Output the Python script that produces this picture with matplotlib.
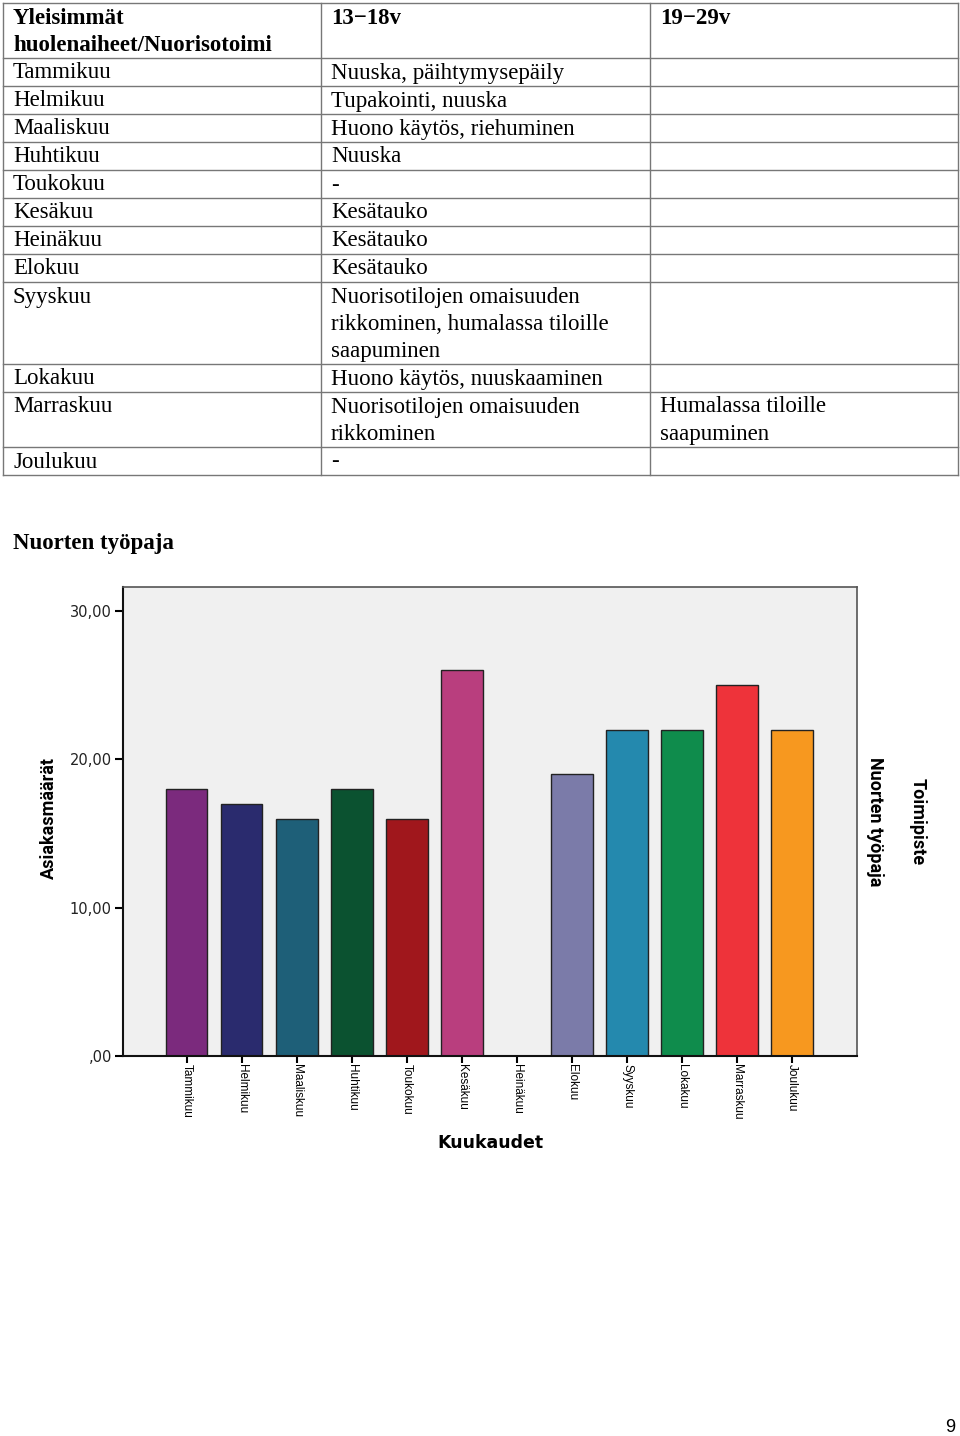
import matplotlib
matplotlib.use("Agg")
import matplotlib.pyplot as plt
from matplotlib.lines import Line2D

# table data
TABLE_HEADER = ["Yleisimmät\nhuolenaiheet/Nuorisotoimi", "13\u221218v", "19\u221229v"]
TABLE_MONTHS = ["Tammikuu", "Helmikuu", "Maaliskuu", "Huhtikuu", "Toukokuu", "Kesäkuu",
                "Heinäkuu", "Elokuu", "Syyskuu", "Lokakuu", "Marraskuu", "Joulukuu"]
TABLE_13_18 = ["Nuuska, päihtymysepäily", "Tupakointi, nuuska", "Huono käytös, riehuminen",
               "Nuuska", "-", "Kesätauko", "Kesätauko", "Kesätauko",
               "Nuorisotilojen omaisuuden\nrikkominen, humalassa tiloille\nsaapuminen",
               "Huono käytös, nuuskaaminen", "Nuorisotilojen omaisuuden\nrikkominen", "-"]
TABLE_19_29 = ["", "", "", "", "", "", "", "", "", "", "Humalassa tiloille\nsaapuminen", ""]

# chart data
MONTHS = ["Tammikuu", "Helmikuu", "Maaliskuu", "Huhtikuu", "Toukokuu", "Kesäkuu",
          "Heinäkuu", "Elokuu", "Syyskuu", "Lokakuu", "Marraskuu", "Joulukuu"]
VISITORS = [18, 17, 16, 18, 16, 26, 0, 19, 22, 22, 25, 22]
BAR_COLORS = ["#7B2A7D", "#2A2B6E", "#1E5F78", "#0B5230", "#A0171C", "#B93E7E",
              "#808080", "#7B7BA9", "#2489AE", "#0F8C4C", "#EE333A", "#F7981F"]
Y_TICKS = [0, 10, 20, 30]
Y_TICK_LABELS = [",00", "10,00", "20,00", "30,00"]

SERIF = "Liberation Serif"
TEXT_SIZE = 16.5
COL_X = [3, 321, 650, 958]
LINE_COLOR = "#777777"


def draw_table(page):
    rows = [TABLE_HEADER] + list(zip(TABLE_MONTHS, TABLE_13_18, TABLE_19_29))
    top = 3
    page.add_line(Line2D([COL_X[0], COL_X[-1]], [top, top], color=LINE_COLOR, lw=1))
    for r, row in enumerate(rows):
        n = max(cell.count("\n") + 1 for cell in row)
        h = 27 * n + 1
        for c, cell in enumerate(row):
            for k, line in enumerate(cell.split("\n")):
                page.text(COL_X[c] + 10, top + 15 + 27.2 * k, line, family=SERIF,
                          fontsize=TEXT_SIZE, va="center", ha="left",
                          fontweight="bold" if r == 0 else "normal")
        top += h
        page.add_line(Line2D([COL_X[0], COL_X[-1]], [top, top], color=LINE_COLOR, lw=1))
    for x in COL_X:
        page.add_line(Line2D([x, x], [3, top], color=LINE_COLOR, lw=1))


def main():
    fig = plt.figure(figsize=(9.6, 14.36), dpi=100)
    page = fig.add_axes([0, 0, 1, 1])
    page.set_xlim(0, 960)
    page.set_ylim(1436, 0)
    page.axis("off")

    draw_table(page)
    page.text(13, 543, "Nuorten työpaja", family=SERIF, fontsize=TEXT_SIZE,
              fontweight="bold", va="center", ha="left")
    page.text(955, 1427, "9", family="Liberation Sans", fontsize=13, va="center", ha="right")

    ax = fig.add_axes([123 / 960, 380 / 1436, 734 / 960, 469 / 1436])
    ax.set_facecolor("#F0F0F0")
    x = list(range(len(MONTHS)))
    ax.bar(x, VISITORS, width=0.75, color=BAR_COLORS, edgecolor="#222222", linewidth=1)
    ax.set_xlim(-1.16, 12.18)
    ax.set_ylim(0, 31.62)

    ax.set_yticks(Y_TICKS)
    ax.set_yticklabels(Y_TICK_LABELS, family="DejaVu Sans", fontsize=10.5, color="#222222")
    ax.set_xticks(x)
    ax.set_xticklabels(MONTHS, rotation=270, family="Liberation Sans", fontsize=8.5,
                       va="top", ha="center")
    ax.tick_params(axis="y", length=6, width=1.5, pad=2)
    ax.tick_params(axis="x", length=5, width=1.5, pad=1)

    for s in ["left", "bottom"]:
        ax.spines[s].set_color("#111111")
        ax.spines[s].set_linewidth(1.5)
    for s in ["top", "right"]:
        ax.spines[s].set_color("#555555")
        ax.spines[s].set_linewidth(1.2)

    ax.set_ylabel("Asiakasmäärät", family="Roboto", fontweight="bold", fontsize=13)
    ax.yaxis.set_label_coords(-0.089, 0.507)
    ax.set_xlabel("Kuukaudet", family="DejaVu Sans", fontweight="bold", fontsize=12.5)
    ax.xaxis.set_label_coords(0.5, -0.166)

    ax.text(1.0245, 0.50, "Nuorten työpaja", transform=ax.transAxes, rotation=270,
            family="Roboto", fontweight="bold", fontsize=13, va="center", ha="center")
    ax.text(1.083, 0.50, "Toimipiste", transform=ax.transAxes, rotation=270,
            family="Roboto", fontweight="bold", fontsize=13, va="center", ha="center")

    fig.savefig("out.png", dpi=100)


if __name__ == "__main__":
    main()
